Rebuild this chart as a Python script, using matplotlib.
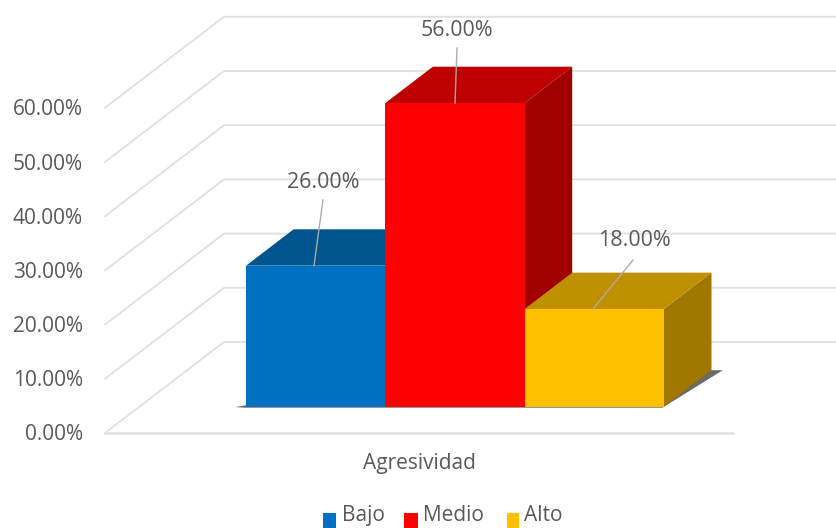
#!/usr/bin/env python3
# 3D looking clustered column chart, drawn by hand on a pixel sized axes

import matplotlib
matplotlib.use("Agg")
import matplotlib.pyplot as plt
from matplotlib.patches import Polygon, Rectangle

categories = ["Bajo", "Medio", "Alto"]
values = [26.0, 56.0, 18.0]
y_ticks = [0, 10, 20, 30, 40, 50, 60]
x_label = "Agresividad"

front_colors = ["#0070C0", "#FF0000", "#FFC000"]
top_colors = ["#00558F", "#BF0000", "#BF9000"]
side_colors = ["#00446F", "#A00000", "#A07800"]

# projection settings, all in pixels of the picture
X0 = 105.0       # front left corner of the floor
Y0 = 433.0
WIDTH = 628.0    # floor width
DX = 119.0       # full depth of the box
DY = -91.0
PX_PER_VALUE = 5.42
TEXT_COLOR = "#595959"
GRID_COLOR = "#E0E0E0"

plt.rcParams["font.family"] = ["Open Sans", "DejaVu Sans"]


def proj(x, v, d):
    """x along the floor (0-1), v value in %, d depth (0-1) -> pixel coords"""
    return (X0 + x * WIDTH + d * DX, Y0 - v * PX_PER_VALUE + d * DY)


fig = plt.figure(figsize=(8.37, 5.28), dpi=100)
ax = fig.add_axes([0, 0, 1, 1])
ax.set_xlim(0, 837)
ax.set_ylim(528, 0)
ax.axis("off")

# gridlines: side wall and back wall
for t in y_ticks:
    xs, ys = zip(proj(0, t, 0), proj(0, t, 1), proj(1.2, t, 1))
    ax.plot(xs, ys, color=GRID_COLOR, lw=1.3, zorder=1)
    ax.text(83, proj(0, t, 0)[1] + 2, "%.2f%%" % t, ha="right", va="center",
            fontsize=15, color=TEXT_COLOR, zorder=5)

# front edge of the floor
xs, ys = zip(proj(0, 0, 0), proj(1, 0, 0))
ax.plot(xs, ys, color=GRID_COLOR, lw=1.8, zorder=1)

# columns
bar_start = 0.1696
bar_w = 0.2218
d_front = 0.29
d_back = 0.69

# shadow on the floor
x_end = bar_start + bar_w * len(values)
shadow = [proj(bar_start - 0.016, 0, d_front - 0.005), proj(bar_start, 0, d_front + 0.02),
          proj(x_end, 0, d_back), proj(x_end + 0.018, 0, d_back),
          proj(x_end, 0, d_front - 0.012), proj(bar_start, 0, d_front - 0.012)]
ax.add_patch(Polygon(shadow, closed=True, facecolor="#6A6A6A", edgecolor="none", zorder=2))

for i, v in enumerate(values):
    x1 = bar_start + i * bar_w
    x2 = x1 + bar_w
    front = [proj(x1, 0, d_front), proj(x2, 0, d_front), proj(x2, v, d_front), proj(x1, v, d_front)]
    top = [proj(x1, v, d_front), proj(x2, v, d_front), proj(x2, v, d_back), proj(x1, v, d_back)]
    side = [proj(x2, 0, d_front), proj(x2, 0, d_back), proj(x2, v, d_back), proj(x2, v, d_front)]
    ax.add_patch(Polygon(side, closed=True, facecolor=side_colors[i], edgecolor="none", zorder=3 + i * 0.1))
    ax.add_patch(Polygon(top, closed=True, facecolor=top_colors[i], edgecolor="none", zorder=3 + i * 0.1))
    ax.add_patch(Polygon(front, closed=True, facecolor=front_colors[i], edgecolor="none", zorder=3 + i * 0.1))

# data labels with leader lines
label_pos = [(323, 182), (457, 31), (634, 241)]
leader_start = [(323, 200), (457, 48), (633, 260)]
leader_end_x = [314, 455, 593]
for i, v in enumerate(values):
    end_y = proj(0, v, d_front)[1]
    ax.plot([leader_start[i][0], leader_end_x[i]], [leader_start[i][1], end_y],
            color="#ABABAB", lw=1.0, zorder=4)
    ax.text(label_pos[i][0], label_pos[i][1], "%.2f%%" % v, ha="center", va="center",
            fontsize=15.4, color=TEXT_COLOR, zorder=5)

ax.text(419, 463, x_label, ha="center", va="center", fontsize=15, color=TEXT_COLOR)

# legend sits right at the bottom edge of the picture
legend_box_x = [323, 404, 507]
legend_box_w = [13, 14, 12]
legend_text_x = [342, 423, 524]
for i, name in enumerate(categories):
    ax.add_patch(Rectangle((legend_box_x[i], 513), legend_box_w[i], 15, facecolor=front_colors[i], edgecolor="none"))
    ax.text(legend_text_x[i], 521, name, ha="left", va="baseline", fontsize=15, color=TEXT_COLOR)

fig.savefig("out.png", dpi=100)
